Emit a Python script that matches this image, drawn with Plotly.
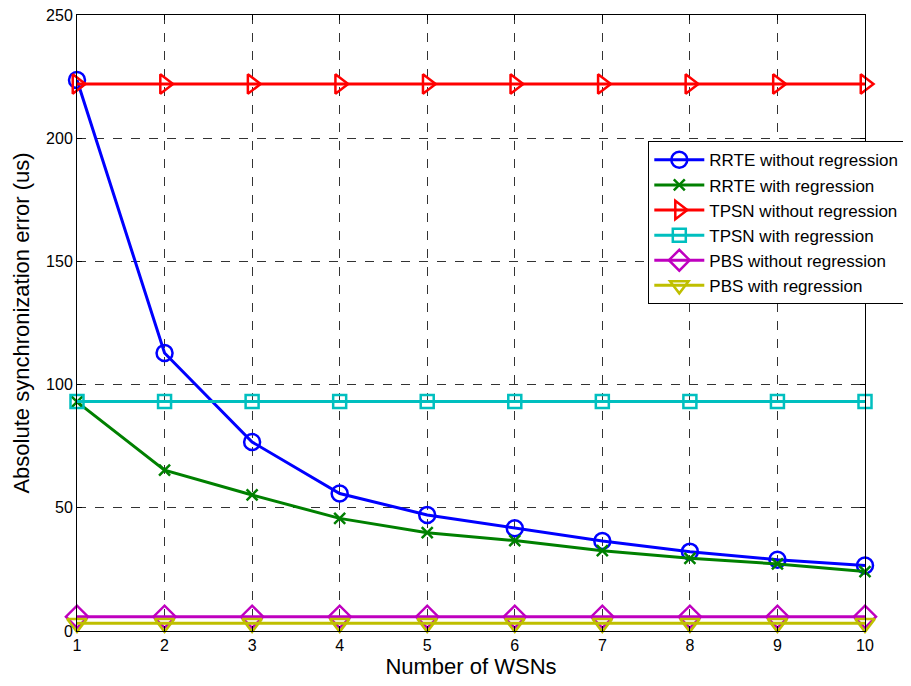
import plotly.graph_objects as go

x_vals = [1, 2, 3, 4, 5, 6, 7, 8, 9, 10]
rrte_without = [223.6, 112.8, 76.7, 55.8, 47.1, 41.7, 36.5, 32.2, 28.9, 26.6]
rrte_with = [93.0, 65.3, 55.2, 45.7, 39.9, 36.7, 32.6, 29.5, 27.2, 24.1]
tpsn_without = [222.0] * 10
tpsn_with = [93.1] * 10
pbs_without = [5.8] * 10
pbs_with = [3.1] * 10

series = [
    ("RRTE without regression", rrte_without, "#0000ff", "circle-open", 16),
    ("RRTE with regression", rrte_with, "#008000", "x-thin-open", 11),
    ("TPSN without regression", tpsn_without, "#ff0000", "triangle-right-open", 17),
    ("TPSN with regression", tpsn_with, "#00bfbf", "square-open", 13),
    ("PBS without regression", pbs_without, "#bf00bf", "diamond-open", 17),
    ("PBS with regression", pbs_with, "#bfbf00", "triangle-down-open", 17),
]

fig = go.Figure()
for name, vals, color, sym, size in series:
    fig.add_trace(go.Scatter(
        x=x_vals, y=vals, name=name, mode="lines+markers",
        line=dict(color=color, width=3),
        marker=dict(symbol=sym, size=size, color=color, line=dict(color=color, width=2.5)),
        cliponaxis=False,
    ))

axis_common = dict(
    showgrid=True, gridcolor="#333333", griddash="dash", gridwidth=1,
    showline=True, linecolor="black", linewidth=1, mirror="ticks",
    ticks="inside", ticklen=5, tickcolor="black", zeroline=False,
    automargin=False, ticklabeloverflow="allow",
    tickfont=dict(family="Liberation Sans, Arial", size=16, color="black"),
)

fig.update_layout(
    width=903, height=679,
    margin=dict(l=69, r=46, t=7, b=56),
    paper_bgcolor="white", plot_bgcolor="white",
    font=dict(family="Liberation Sans, Arial", color="black"),
    xaxis=dict(range=[1, 10], tickvals=x_vals, title=dict(text="Number of WSNs", font=dict(size=22), standoff=2), **axis_common),
    yaxis=dict(range=[0, 250], tickvals=[0, 50, 100, 150, 200, 250], title=dict(text="Absolute synchronization error (us)", font=dict(size=22), standoff=10), **axis_common),
    legend=dict(x=0.725, y=0.795, xanchor="left", yanchor="top",
                bgcolor="white", bordercolor="black", borderwidth=1,
                font=dict(size=17, color="black"), tracegroupgap=0, itemwidth=50),
    showlegend=True,
)

fig.write_html("out.html")
